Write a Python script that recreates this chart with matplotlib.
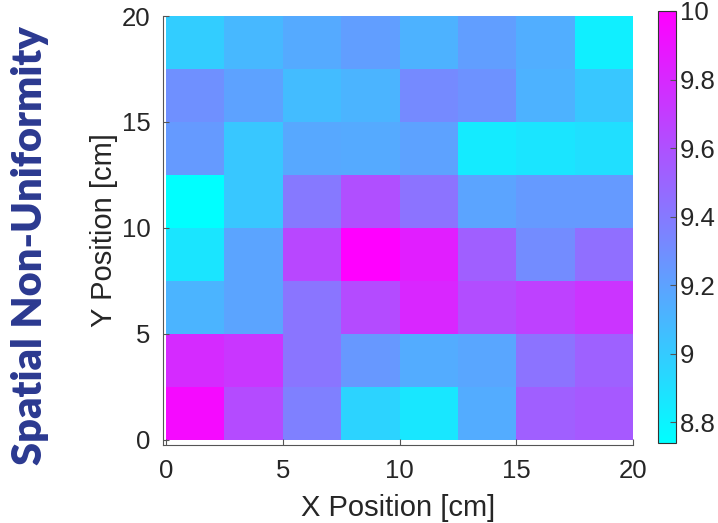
import numpy as np
import matplotlib
matplotlib.use('Agg')
import matplotlib.pyplot as plt

# 8x8 grid of measured values, rows listed from y=0 (bottom) upward
x_edges = [0, 2.5, 5, 7.5, 10, 12.5, 15, 17.5, 20]
y_edges = [0, 2.5, 5, 7.5, 10, 12.5, 15, 17.5, 20]
row_0 = [9.95, 9.63, 9.37, 8.96, 8.86, 9.15, 9.53, 9.56]
row_1 = [9.79, 9.73, 9.42, 9.25, 9.15, 9.18, 9.43, 9.52]
row_2 = [9.11, 9.19, 9.42, 9.63, 9.81, 9.62, 9.68, 9.74]
row_3 = [8.87, 9.19, 9.65, 10.00, 9.85, 9.53, 9.31, 9.45]
row_4 = [8.74, 9.02, 9.40, 9.61, 9.43, 9.19, 9.24, 9.24]
row_5 = [9.24, 9.02, 9.17, 9.16, 9.20, 8.84, 8.87, 8.90]
row_6 = [9.29, 9.20, 9.07, 9.11, 9.32, 9.28, 9.12, 9.02]
row_7 = [8.99, 9.09, 9.16, 9.22, 9.12, 9.22, 9.14, 8.82]
x_ticks = [0, 5, 10, 15, 20]
y_ticks = [0, 5, 10, 15, 20]
cbar_ticks = [8.8, 9.0, 9.2, 9.4, 9.6, 9.8, 10.0]
cbar_labels = ['8.8', '9', '9.2', '9.4', '9.6', '9.8', '10']

Z = np.array([row_0, row_1, row_2, row_3, row_4, row_5, row_6, row_7])

plt.rcParams['font.family'] = ['Liberation Sans', 'DejaVu Sans']
txt = '#262626'
edge = '#555555'

fig = plt.figure(figsize=(7.18, 5.23), dpi=100)
ax = fig.add_axes([163/718, 1 - 445/523, 470/718, 429/523])
mesh = ax.pcolormesh(x_edges, y_edges, Z, cmap='cool', vmin=Z.min(), vmax=Z.max())
ax.set_xlim(-0.13, 20)
ax.set_ylim(-0.25, 20)
ax.set_xticks(x_ticks)
ax.set_yticks(y_ticks)
ax.tick_params(direction='in', length=4, width=0.8, colors=edge,
               labelcolor=txt, labelsize=18.5)
ax.tick_params(axis='x', pad=10)
ax.tick_params(axis='y', pad=9)
for s in ['top', 'right']:
    ax.spines[s].set_visible(False)
for s in ['left', 'bottom']:
    ax.spines[s].set_color(edge)
    ax.spines[s].set_linewidth(0.8)
ax.set_xlabel('X Position [cm]', fontsize=21, color=txt, labelpad=8)
ax.set_ylabel('Y Position [cm]', fontsize=21, color=txt, labelpad=3)

cax = fig.add_axes([658/718, 1 - 443/523, 18/718, 432/523])
cb = fig.colorbar(mesh, cax=cax, ticks=cbar_ticks)
cb.ax.set_yticklabels(cbar_labels)
cb.ax.tick_params(direction='in', length=4, width=0.8, colors=edge,
                  labelcolor=txt, labelsize=18.5, pad=3)
cb.outline.set_edgecolor('#333333')
cb.outline.set_linewidth(0.8)

fig.text(30/718, 1 - 246/523, 'Spatial Non-Uniformity', rotation=90,
         ha='center', va='center', fontsize=30, fontweight='heavy',
         color='#2B3990', family=['Lato', 'DejaVu Sans'])

fig.savefig('out.png', dpi=100)
